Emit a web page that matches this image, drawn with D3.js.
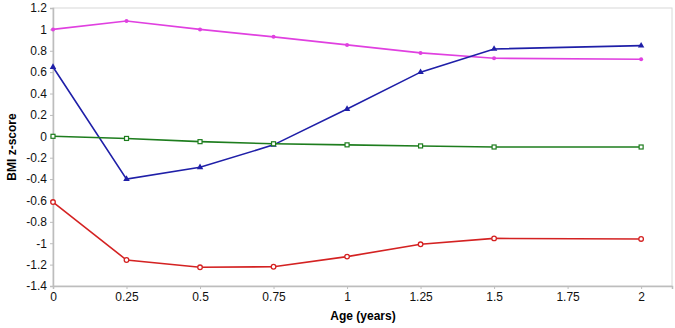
<!DOCTYPE html>
<html><head><meta charset="utf-8">
<script src="https://cdn.jsdelivr.net/npm/d3@7"></script>
<style>body{margin:0;background:#fff;} text{font-family:"Liberation Sans",Arial,sans-serif;}</style>
</head><body><svg id="c" width="675" height="328"></svg>
<script>
const ages = [0, 0.25, 0.5, 0.75, 1, 1.25, 1.5, 2];
const magenta = [1.0, 1.078, 1.0, 0.93, 0.855, 0.78, 0.73, 0.72];
const blue = [0.648, -0.40, -0.29, -0.08, 0.255, 0.60, 0.817, 0.848];
const green = [0.0, -0.02, -0.05, -0.07, -0.08, -0.09, -0.10, -0.10];
const red = [-0.615, -1.157, -1.225, -1.22, -1.125, -1.01, -0.955, -0.96];
const xTicks = [0, 0.25, 0.5, 0.75, 1, 1.25, 1.5, 1.75, 2];
const yTicks = [1.2, 1, 0.8, 0.6, 0.4, 0.2, 0, -0.2, -0.4, -0.6, -0.8, -1, -1.2, -1.4];

const svg = d3.select("#c");
const x = d3.scaleLinear().domain([0, 2.105]).range([53, 672]);
const y = d3.scaleLinear().domain([-1.4, 1.2]).range([286, 8]);

// frame
svg.append("rect").attr("x",53).attr("y",8).attr("width",619).attr("height",278)
  .attr("fill","none").attr("stroke","#d8d8d8").attr("stroke-width",1);

const xa = svg.append("g").attr("transform","translate(0,286)")
  .call(d3.axisBottom(x).tickValues(xTicks).tickSize(3).tickPadding(3).tickFormat(d=>String(d)));
const ya = svg.append("g").attr("transform","translate(53,0)")
  .call(d3.axisLeft(y).tickValues(yTicks).tickSize(3).tickPadding(3).tickFormat(d=>String(d)));
[xa,ya].forEach(g=>{
  g.select(".domain").attr("stroke","#bdbdbd").attr("stroke-width",1.5);
  g.selectAll(".tick line").attr("stroke","#bdbdbd");
  g.selectAll("text").attr("font-size",12).attr("fill","#111").attr("font-family","Liberation Sans, Arial, sans-serif");
});

svg.append("text").attr("x",363).attr("y",320).attr("text-anchor","middle")
  .attr("font-size",12).attr("font-weight","bold").text("Age (years)");
svg.append("text").attr("transform","translate(16,147) rotate(-90)").attr("text-anchor","middle")
  .attr("font-size",12).attr("font-weight","bold").text("BMI z-score");

const line = d3.line().x((d,i)=>x(ages[i])).y(d=>y(d));
const series = [
  {v:magenta, c:"#e040e0", m:"plus"},
  {v:blue, c:"#1f1fa8", m:"tri"},
  {v:green, c:"#1e7d1e", m:"sq"},
  {v:red, c:"#d42222", m:"circ"}
];
series.forEach(s=>{
  svg.append("path").datum(s.v).attr("d",line).attr("fill","none").attr("stroke",s.c).attr("stroke-width",1.6);
  const g = svg.append("g");
  s.v.forEach((d,i)=>{
    const cx = x(ages[i]), cy = y(d);
    if(s.m==="tri"){
      g.append("path").attr("d",d3.symbol().type(d3.symbolTriangle).size(18)()).attr("transform",`translate(${cx},${cy})`).attr("fill",s.c);
    } else if(s.m==="sq"){
      g.append("rect").attr("x",cx-2).attr("y",cy-2).attr("width",4).attr("height",4).attr("fill","#fff").attr("stroke",s.c).attr("stroke-width",1.2);
    } else if(s.m==="circ"){
      g.append("circle").attr("cx",cx).attr("cy",cy).attr("r",2.3).attr("fill","#fff").attr("stroke",s.c).attr("stroke-width",1.3);
    } else {
      g.append("circle").attr("cx",cx).attr("cy",cy).attr("r",2).attr("fill",s.c);
    }
  });
});
</script></body></html>
